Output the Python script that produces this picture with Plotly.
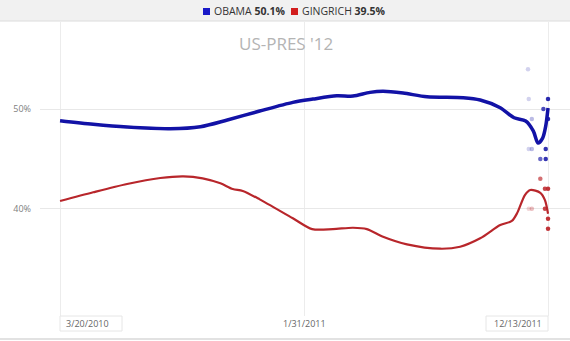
import pandas as pd
import plotly.graph_objects as go

# Poll-average trend lines
obama_dates = ["2010-03-20", "2010-05-02", "2010-06-15", "2010-08-10", "2010-09-18",
               "2010-10-23", "2010-12-04", "2011-01-16", "2011-02-11", "2011-03-14",
               "2011-04-04", "2011-04-26", "2011-05-13", "2011-06-08", "2011-07-09",
               "2011-08-25", "2011-09-16", "2011-10-12", "2011-10-30", "2011-11-14",
               "2011-11-24", "2011-11-30", "2011-12-06", "2011-12-10", "2011-12-13"]
obama_trend = [48.83, 48.47, 48.19, 48.02, 48.22,
               48.90, 49.80, 50.67, 51.00, 51.33,
               51.30, 51.67, 51.78, 51.60, 51.23,
               51.13, 50.90, 50.13, 49.13, 48.80,
               47.79, 46.59, 47.09, 48.29, 50.1]

gingrich_dates = ["2010-03-20", "2010-05-02", "2010-06-15", "2010-07-28", "2010-08-27",
                  "2010-09-21", "2010-10-14", "2010-10-30", "2010-11-12", "2010-12-04",
                  "2011-01-16", "2011-02-10", "2011-03-09", "2011-04-04", "2011-04-22",
                  "2011-05-13", "2011-06-13", "2011-07-26", "2011-08-21", "2011-09-16",
                  "2011-10-12", "2011-10-27", "2011-11-03", "2011-11-13", "2011-11-20",
                  "2011-12-03", "2011-12-09", "2011-12-13"]
gingrich_trend = [40.77, 41.65, 42.48, 43.08, 43.25,
                  43.05, 42.55, 41.98, 41.78, 40.94,
                  39.04, 37.96, 37.96, 38.09, 37.96,
                  37.19, 36.43, 35.99, 36.19, 37.03,
                  38.36, 38.77, 39.57, 41.37, 41.88,
                  41.60, 40.87, 39.5]

# Individual poll results
obama_poll_dates = ["2011-11-17", "2011-11-18", "2011-12-13", "2011-12-07", "2011-12-13",
                    "2011-11-22", "2011-11-18", "2011-11-22", "2011-12-10", "2011-12-03",
                    "2011-12-10"]
obama_polls = [54, 51, 51, 50, 49, 49, 46, 46, 46, 45, 45]

gingrich_poll_dates = ["2011-12-03", "2011-12-09", "2011-12-13", "2011-11-18", "2011-11-22",
                       "2011-12-09", "2011-12-13", "2011-12-13"]
gingrich_polls = [43, 42, 42, 40, 40, 40, 39, 38]

x_ticks = ["2010-03-20", "2011-01-31", "2011-12-13"]
x_tick_labels = ["3/20/2010", "1/31/2011", "12/13/2011"]
y_ticks = [40, 50]
y_tick_labels = ["40%", "50%"]

title_text = "US-PRES '12"
legend_names = ["OBAMA", "GINGRICH"]
legend_values = ["50.1%", "39.5%"]

W, H = 570, 341
M_L, M_R, M_T, M_B = 40, 0, 22, 25
PW, PH = W - M_L - M_R, H - M_T - M_B

BLUE = "#1212a6"
RED = "#b8262b"


def px_x(px):
    return (px - M_L) / PW


def px_y(py):
    return (H - M_B - py) / PH


def poll_colors(dates, rgb):
    # older polls fade out
    end = pd.Timestamp(x_ticks[-1])
    out = []
    for d in dates:
        age = (end - pd.Timestamp(d)).days
        a = max(0.2, min(0.95, 1 - age / 30))
        out.append(f"rgba({rgb},{a:.2f})")
    return out


fig = go.Figure()

fig.add_trace(go.Scatter(
    x=obama_poll_dates, y=obama_polls, mode="markers",
    marker=dict(size=4.5, color=poll_colors(obama_poll_dates, "30,30,170")),
    showlegend=False, hoverinfo="skip"))
fig.add_trace(go.Scatter(
    x=gingrich_poll_dates, y=gingrich_polls, mode="markers",
    marker=dict(size=4.5, color=poll_colors(gingrich_poll_dates, "190,40,45")),
    showlegend=False, hoverinfo="skip"))

fig.add_trace(go.Scatter(
    x=obama_dates, y=obama_trend, mode="lines",
    line=dict(color=BLUE, width=3.5, shape="spline", smoothing=0.8),
    name=legend_names[0], showlegend=False))
fig.add_trace(go.Scatter(
    x=gingrich_dates, y=gingrich_trend, mode="lines",
    line=dict(color=RED, width=2.2, shape="spline", smoothing=0.8),
    name=legend_names[1], showlegend=False))

shapes = [
    # header strip
    dict(type="rect", xref="paper", yref="paper",
         x0=px_x(0), x1=px_x(W), y0=px_y(21), y1=px_y(0),
         fillcolor="#f1f1f1", line=dict(width=0), layer="below"),
    dict(type="line", xref="paper", yref="paper",
         x0=px_x(0), x1=px_x(W), y0=px_y(21), y1=px_y(21),
         line=dict(color="#dcdcdc", width=1)),
    # legend swatches
    dict(type="rect", xref="paper", yref="paper",
         x0=px_x(203), x1=px_x(210), y0=px_y(15), y1=px_y(8),
         fillcolor="#1a1ac8", line=dict(width=0)),
    dict(type="rect", xref="paper", yref="paper",
         x0=px_x(291), x1=px_x(298), y0=px_y(15), y1=px_y(8),
         fillcolor="#d21e1e", line=dict(width=0)),
    # bottom rule
    dict(type="line", xref="paper", yref="paper",
         x0=px_x(0), x1=px_x(W), y0=px_y(339), y1=px_y(339),
         line=dict(color="#d8d8d8", width=1.5)),
    # boxes around the end date labels
    dict(type="rect", xref="paper", yref="paper",
         x0=px_x(60), x1=px_x(122), y0=px_y(331), y1=px_y(316),
         line=dict(color="#e6e6e6", width=1), fillcolor="white"),
    dict(type="rect", xref="paper", yref="paper",
         x0=px_x(486), x1=px_x(548), y0=px_y(331), y1=px_y(316),
         line=dict(color="#e6e6e6", width=1), fillcolor="white"),
]

label_font = dict(family="Open Sans", size=9, color="#666666")
legend_font = dict(family="Open Sans", size=10.5, color="#333333")

annotations = [
    dict(text=title_text, xref="paper", yref="paper", x=px_x(286), y=px_y(44),
         showarrow=False, xanchor="center", yanchor="middle",
         font=dict(family="Open Sans", size=17, color="#b4b4b4")),
    dict(text=f"{legend_names[0]} <b>{legend_values[0]}</b>",
         xref="paper", yref="paper", x=px_x(212), y=px_y(11.5),
         showarrow=False, xanchor="left", yanchor="middle", font=legend_font),
    dict(text=f"{legend_names[1]} <b>{legend_values[1]}</b>",
         xref="paper", yref="paper", x=px_x(300), y=px_y(11.5),
         showarrow=False, xanchor="left", yanchor="middle", font=legend_font),
    dict(text=x_tick_labels[0], xref="paper", yref="paper", x=px_x(64), y=px_y(323.5),
         showarrow=False, xanchor="left", yanchor="middle", font=label_font),
    dict(text=x_tick_labels[1], x=x_ticks[1], xref="x", yref="paper", y=px_y(323.5),
         showarrow=False, xanchor="center", yanchor="middle", font=label_font),
    dict(text=x_tick_labels[2], xref="paper", yref="paper", x=px_x(544), y=px_y(323.5),
         showarrow=False, xanchor="right", yanchor="middle", font=label_font),
]

fig.update_layout(
    width=W, height=H,
    margin=dict(l=M_L, r=M_R, t=M_T, b=M_B, pad=0),
    paper_bgcolor="white", plot_bgcolor="white",
    shapes=shapes, annotations=annotations,
    xaxis=dict(type="date", range=["2010-02-22", "2012-01-10 12:00"],
               tickvals=x_ticks, showticklabels=False, showgrid=True,
               gridcolor="#ececec", gridwidth=1, zeroline=False, showline=False,
               fixedrange=True),
    yaxis=dict(range=[29.24, 58.73], tickvals=y_ticks, ticktext=y_tick_labels,
               showgrid=True, gridcolor="#e8e8e8", gridwidth=1, zeroline=False,
               showline=False, ticklabelstandoff=8,
               tickfont=dict(family="Open Sans", size=9, color="#808080"),
               fixedrange=True),
    showlegend=False,
)

fig.write_html("out.html")
